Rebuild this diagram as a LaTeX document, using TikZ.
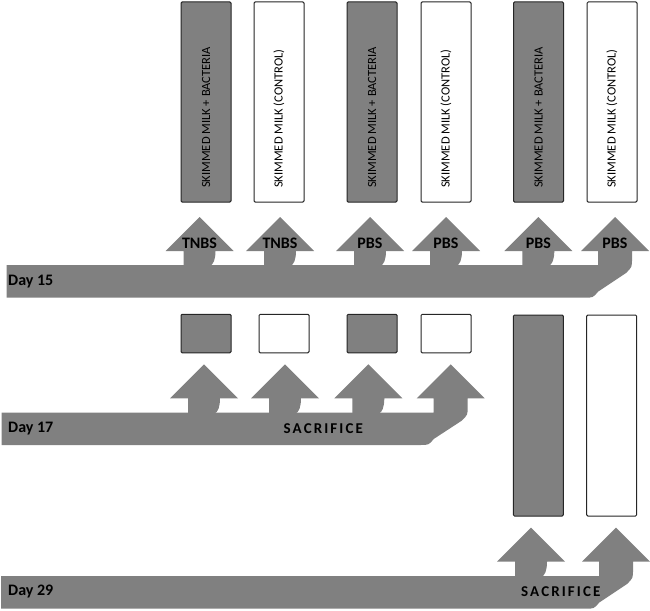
\documentclass[tikz,border=0pt]{standalone}
\usepackage{fontspec}
\setmainfont{Carlito}
\newfontfamily\spacedfont[LetterSpace=14]{Carlito}
\definecolor{bandgray}{HTML}{808080}
\definecolor{edgecol}{HTML}{262626}
\newcommand\midarrow[3]{% c, H, T
  \fill[arr] ({#1-16},{#3+1}) -- ({#1-16},{#2}) -- ({#1-34},{#2}) -- ({#1},{#2-34}) -- ({#1+34},{#2}) -- ({#1+16},{#2})
    .. controls ({#1+16},{#3-6}) and ({#1+14},{#3}) .. ({#1+10},{#3+1}) -- cycle;}
\newcommand\rowband[5]{% x0, c, H, T, B
  \fill[arr] ({#1},{#4}) -- ({#2-17},{#4}) -- ({#2-17},{#3}) -- ({#2-34},{#3}) -- ({#2},{#3-34}) -- ({#2+34},{#3}) -- ({#2+17},{#3})
    -- ({#2+17},{#4-6}) .. controls ({#2+17},{#4+2}) .. ({#2+11},{#4+8})
    -- ({#2-17},{#5-6}) .. controls ({#2-22},{#5}) .. ({#2-31},{#5}) -- ({#1},{#5}) -- cycle;}
\begin{document}
\begin{tikzpicture}[x=1pt,y=-1pt,
  arr/.style={fill=bandgray,draw=none},
  darkbox/.style={draw=edgecol,fill=bandgray,line width=1pt,rounded corners=1.2pt,minimum width=50pt,inner sep=0pt},
  whitebox/.style={darkbox,fill=white},
  vlab/.style={rotate=90,anchor=west,inner sep=0pt,font=\fontsize{12.5}{14}\selectfont},
  daylab/.style={anchor=west,inner sep=0pt,font=\fontsize{16}{18}\selectfont\bfseries},
  trt/.style={inner sep=0pt,font=\fontsize{16}{18}\selectfont\bfseries},
  sac/.style={inner sep=0pt,font=\fontsize{15}{17}\selectfont\spacedfont\bfseries}]
\useasboundingbox (0,0) rectangle (650,610);

% ---------- Day 15 ----------
\node[darkbox,minimum height=200pt] (a1) at (206,102) {};
\node[whitebox,minimum height=200pt] (a2) at (279,102) {};
\node[darkbox,minimum height=200pt] (a3) at (372,102) {};
\node[whitebox,minimum height=200pt] (a4) at (446,102) {};
\node[darkbox,minimum height=200pt] (a5) at (538.5,102) {};
\node[whitebox,minimum height=200pt] (a6) at (612,102) {};
\node[vlab] (la1) at (206,188) {SKIMMED MILK + BACTERIA};
\node[vlab] (la2) at (279,188) {SKIMMED MILK (CONTROL)};
\node[vlab] (la3) at (372,188) {SKIMMED MILK + BACTERIA};
\node[vlab] (la4) at (446,188) {SKIMMED MILK (CONTROL)};
\node[vlab] (la5) at (538.5,188) {SKIMMED MILK + BACTERIA};
\node[vlab] (la6) at (612,188) {SKIMMED MILK (CONTROL)};

\rowband{6.7}{615}{251}{265}{297.7}
\midarrow{199.5}{251}{265}
\midarrow{280}{251}{265}
\midarrow{370}{251}{265}
\midarrow{446}{251}{265}
\midarrow{538.3}{251}{265}
\node[trt] (t1) at (199.5,243) {TNBS};
\node[trt] (t2) at (280,243) {TNBS};
\node[trt] (t3) at (370,243) {PBS};
\node[trt] (t4) at (446,243) {PBS};
\node[trt] (t5) at (538.3,243) {PBS};
\node[trt] (t6) at (615,243) {PBS};
\node[daylab] (d15) at (8,281.5) {Day 15};

% ---------- Day 17 ----------
\node[darkbox,minimum height=38.5pt] (b1) at (206,333.5) {};
\node[whitebox,minimum height=38.5pt] (b2) at (284,333.5) {};
\node[darkbox,minimum height=38.5pt] (b3) at (372,333.5) {};
\node[whitebox,minimum height=38.5pt] (b4) at (446,333.5) {};
\rowband{1.7}{450.7}{398.3}{412.7}{445}
\midarrow{204}{398.3}{412.7}
\midarrow{285}{398.3}{412.7}
\midarrow{368.3}{398.3}{412.7}
\node[daylab] (d17) at (8,428.5) {Day 17};
\node[sac] (s17) at (323.3,428.5) {SACRIFICE};

% ---------- Day 29 ----------
\node[darkbox,minimum height=201pt] (c1) at (538.3,415.5) {};
\node[whitebox,minimum height=201pt] (c2) at (611.7,415.5) {};
\rowband{1}{616}{561.7}{576}{608.7}
\midarrow{531}{561.7}{576}
\node[daylab] (d29) at (8,592) {Day 29};
\node[sac] (s29) at (560.8,591.7) {SACRIFICE};
\end{tikzpicture}
\end{document}
